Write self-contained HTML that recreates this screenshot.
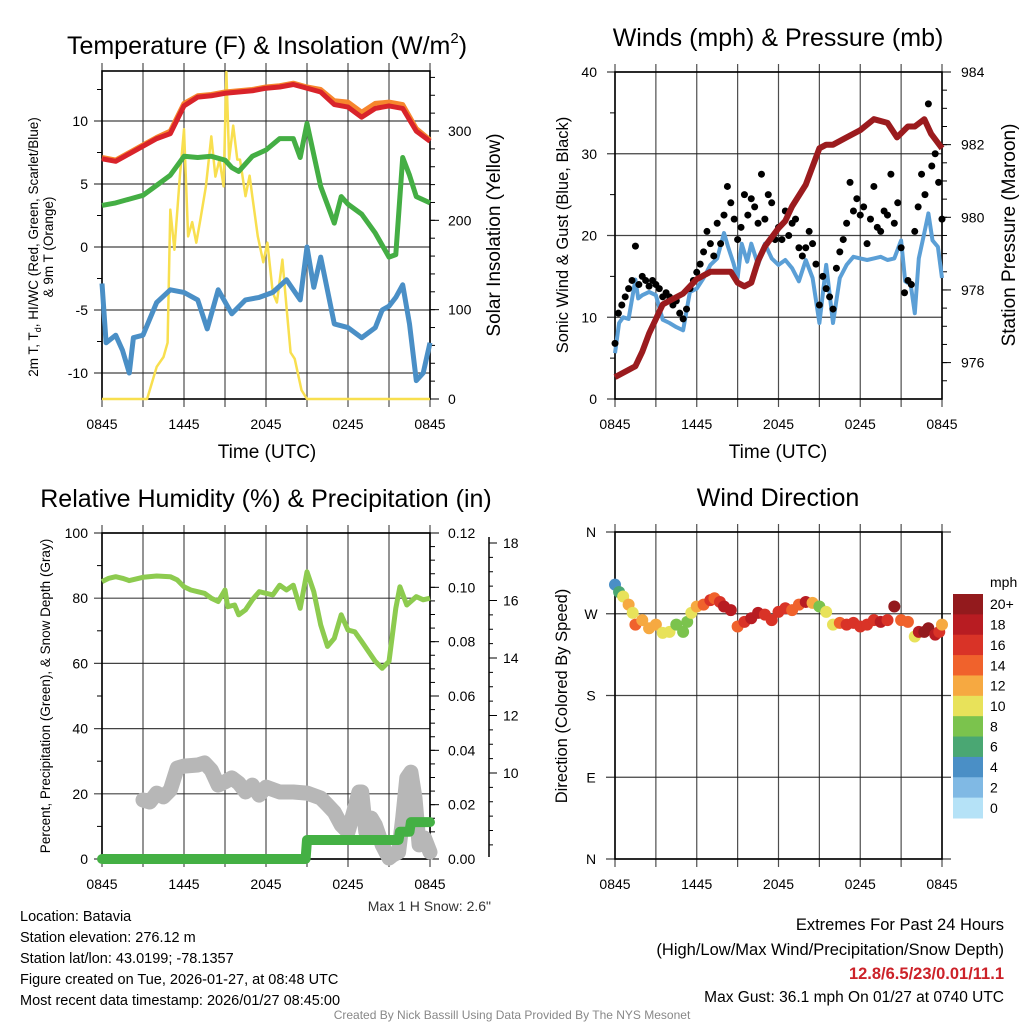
<!DOCTYPE html>
<html><head><meta charset="utf-8">
<style>
html,body{margin:0;padding:0;background:#fff;}
svg{display:block;font-family:"Liberation Sans",Arial,sans-serif;}
</style></head>
<body>
<svg id="chart" width="1024" height="1024" viewBox="0 0 1024 1024" xmlns="http://www.w3.org/2000/svg">
<g id="layer"></g>
<g fill="#000">
<text x="267" y="54" font-size="25" text-anchor="middle">Temperature (F) &amp; Insolation (W/m<tspan font-size="15" dy="-11">2</tspan><tspan dy="11">)</tspan></text>
<text x="778" y="46" font-size="25" text-anchor="middle">Winds (mph) &amp; Pressure (mb)</text>
<text x="266" y="507" font-size="25" text-anchor="middle">Relative Humidity (%) &amp; Precipitation (in)</text>
<text x="778" y="506" font-size="25" text-anchor="middle">Wind Direction</text>
<text x="267" y="458" font-size="19" text-anchor="middle">Time (UTC)</text>
<text x="778" y="458" font-size="19" text-anchor="middle">Time (UTC)</text>
<text transform="translate(38,247) rotate(-90)" font-size="13.5" text-anchor="middle">2m T, T<tspan font-size="9" dy="3">d</tspan><tspan dy="-3">, HI/WC (Red, Green, Scarlet/Blue)</tspan></text>
<text transform="translate(53,247) rotate(-90)" font-size="13.5" text-anchor="middle">&amp; 9m T (Orange)</text>
<text transform="translate(500,235) rotate(-90)" font-size="19" text-anchor="middle">Solar Insolation (Yellow)</text>
<text transform="translate(568,235) rotate(-90)" font-size="16.5" text-anchor="middle">Sonic Wind &amp; Gust (Blue, Black)</text>
<text transform="translate(1015,235) rotate(-90)" font-size="19" text-anchor="middle">Station Pressure (Maroon)</text>
<text transform="translate(50,696) rotate(-90)" font-size="13.5" text-anchor="middle">Percent, Precipitation (Green), &amp; Snow Depth (Gray)</text>
<text transform="translate(567,696) rotate(-90)" font-size="16.5" text-anchor="middle">Direction (Colored By Speed)</text>
<text x="491" y="911" font-size="14" fill="#333" text-anchor="end">Max 1 H Snow: 2.6"</text>
<text x="990" y="587" font-size="14">mph</text>
</g>
<g font-size="14.5" fill="#000">
<text x="20" y="921">Location: Batavia</text>
<text x="20" y="942">Station elevation: 276.12 m</text>
<text x="20" y="963">Station lat/lon: 43.0199; -78.1357</text>
<text x="20" y="984">Figure created on Tue, 2026-01-27, at 08:48 UTC</text>
<text x="20" y="1005">Most recent data timestamp: 2026/01/27 08:45:00</text>
</g>
<g text-anchor="end" fill="#000">
<text x="1004" y="930" font-size="16.5">Extremes For Past 24 Hours</text>
<text x="1004" y="955" font-size="16.5">(High/Low/Max Wind/Precipitation/Snow Depth)</text>
<text x="1004" y="979" font-size="16.5" font-weight="bold" fill="#cc2229">12.8/6.5/23/0.01/11.1</text>
<text x="1004" y="1002" font-size="15.5">Max Gust: 36.1 mph On 01/27 at 0740 UTC</text>
</g>
<text x="512" y="1019" font-size="12" fill="#888" text-anchor="middle">Created By Nick Bassill Using Data Provided By The NYS Mesonet</text>
</svg>
<script>
// ---------- data ----------
const xTickLabels = ["0845","1445","2045","0245","0845"];
const hourly = [0,1,2,3,4,5,6,7,8,9,10,11,12,13,14,15,16,17,18,19,20,21,22,23,24];
const tempRed = [7.0,6.8,7.4,8.0,8.6,9.0,11.2,11.9,12.0,12.2,12.3,12.4,12.6,12.7,12.9,12.6,12.3,11.3,11.1,10.3,11.0,11.2,11.0,9.2,8.4];
const temp9m = [7.1,6.9,7.5,8.1,8.7,9.2,11.4,12.0,12.1,12.3,12.4,12.5,12.7,12.8,13.0,12.7,12.5,11.6,11.5,10.7,11.4,11.5,11.3,9.4,8.5];
const dewTimes = [0,1,2,3,4,5,6,7,8,9,9.5,10,11,12,13,14,14.5,15,16,17,17.5,18,19,20,21,21.5,22,22.5,23,24];
const dewGreen = [3.3,3.5,3.8,4.1,4.9,5.7,7.2,7.1,7.2,6.9,6.3,6.0,7.2,7.7,8.6,8.6,7.1,9.8,4.8,1.9,4.0,3.4,2.6,1.1,-0.8,-0.6,7.1,5.7,4.0,3.5];
const wcTimes = [0,0.3,1,1.5,2,2.3,3,4,5,6,7,7.7,8.5,9.5,10.5,11.5,12.5,13.5,14.5,15,15.5,16,17,18,19,20,20.5,21,21.5,22,22.5,23,23.5,24];
const wcBlue = [-2.9,-7.6,-7.0,-8.2,-10.0,-7.2,-7.0,-4.4,-3.4,-3.6,-4.2,-6.5,-3.4,-5.3,-4.2,-4.0,-3.6,-2.6,-4.2,0.0,-3.2,-0.8,-6.1,-6.4,-7.2,-6.4,-5.0,-4.7,-4.0,-3.0,-6.1,-10.6,-10.0,-7.6];
const solarTimes = [0,3.3,4,4.5,4.8,5,5.3,5.7,6,6.3,6.6,6.9,7.2,7.6,8,8.3,8.6,8.9,9.1,9.3,9.6,9.9,10.1,10.5,10.8,11,11.4,11.8,12.1,12.5,12.8,13.2,13.5,13.8,14.1,14.6,15,24];
const solar = [0,0,36,47,63,212,167,250,302,182,198,175,201,238,294,249,268,238,366,268,306,268,268,227,250,227,182,153,175,119,108,156,103,52,45,10,0,0];
const presTimes = [0,0.5,1,1.5,2,2.5,3,3.5,4,5,6,7,8,8.5,9,9.5,10,10.5,11,12,12.5,13,14,15,15.5,16,17,18,19,20,20.7,21.5,22,22.7,23.2,23.6,24];
const pressure = [975.6,975.7,975.8,975.9,976.3,976.8,977.2,977.6,977.7,977.9,978.3,978.5,978.5,978.5,978.2,978.1,978.2,978.8,979.2,979.7,979.9,980.3,980.9,981.9,982.0,982.0,982.2,982.4,982.7,982.6,982.2,982.5,982.5,982.7,982.3,982.1,981.9];
const windTimes = [0,0.3,0.6,1,1.5,1.7,2,2.5,3,3.5,4,4.5,5,5.5,6,6.5,7,7.5,8,8.3,8.7,9,9.3,9.7,10,10.5,11,11.5,12,12.5,13,13.5,14,14.5,15,15.5,16,16.5,17,17.5,18,18.5,19,19.5,20,20.5,21,21.3,21.7,22,22.3,22.7,23,23.3,23.7,24];
const windSpeed = [5.6,9.3,10.0,9.8,14.6,12.3,12.7,13.1,12.7,9.7,9.3,8.8,8.4,13.1,13.5,14.8,16.4,17.2,20.3,18.6,16.6,14.8,19.0,16.8,19.0,16.4,19.0,17.2,16.4,17.0,16.0,14.4,17.0,14.8,9.3,16.4,9.3,14.8,16.4,17.4,17.2,17.0,17.2,17.4,17.0,17.2,19.4,14.4,14.0,10.5,17.2,20.3,22.7,19.4,18.6,14.8];
const gustStep = 0.25;
const gusts = [6.8,10.5,11.5,12.5,13.5,14.5,18.7,14.0,15.0,14.5,13.8,14.5,14.0,13.5,12.5,13.0,12.5,11.5,12.0,10.5,9.8,11.0,13.5,14.5,15.5,16.5,18.0,20.5,19.0,17.5,21.5,19.0,22.5,26.0,24.0,22.0,19.5,21.0,25.0,22.5,24.5,23.5,21.5,27.5,22.0,25.0,24.0,19.5,21.0,19.5,23.0,20.0,21.5,22.0,18.5,17.5,18.5,20.5,19.0,16.5,11.5,15.0,13.5,12.5,11.0,16.0,18.0,19.5,21.5,26.5,23.0,24.5,22.5,23.5,19.0,22.0,26.0,21.0,20.5,23.0,22.5,27.5,21.5,24.0,18.5,13.0,14.5,14.0,20.5,23.5,27.5,25.0,36.1,28.5,30.0,26.5,22.0];
const rhTimes = [0,0.5,1,1.5,2,3,4,5,5.5,6,6.5,7,7.5,8,8.5,9,9.2,9.7,10,10.5,11,11.5,12,12.5,13,13.5,14,14.5,15,15.5,16,16.5,17,17.5,18,18.5,19,20,20.5,21,21.5,21.8,22.3,23,23.5,24];
const rh = [85.1,86.1,86.6,86.1,85.4,86.4,86.8,86.6,85.6,83.5,82.5,82.0,81.5,80.0,79.0,82.5,77.4,77.9,74.9,76.4,79.5,82.0,81.5,81.0,84.0,82.5,84.0,76.9,88.1,82.0,71.8,65.2,67.7,74.9,70.2,69.7,66.7,60.6,58.5,60.6,76.9,83.5,77.9,80.5,79.5,80.0];
const precipTimes = [0,14.9,15.0,21.7,21.8,22.5,22.6,24];
const precip = [0,0,0.007,0.007,0.010,0.010,0.0136,0.0136];
const snowTimes = [3,3.5,4,4.5,5,5.5,6,7,7.5,8,8.5,9,9.5,10,10.5,11,11.5,12,13,14,15,16,16.5,17,17.5,18,18.5,18.8,19,19.3,19.7,20,20.5,21,21.3,21.7,22,22.3,22.6,22.9,23.2,23.6,24];
const snow = [9.06,8.99,9.30,9.17,9.41,10.17,10.24,10.28,10.35,10.10,9.58,9.69,9.83,9.65,9.34,9.58,9.23,9.51,9.34,9.34,9.30,9.13,8.89,8.64,8.19,7.95,8.78,9.34,9.34,7.95,8.43,8.19,7.50,7.04,7.15,7.25,8.43,9.83,10.03,9.13,7.50,7.74,7.25];
const dirTimes = [0,0.3,0.6,1,1.3,1.5,2,2.5,3,3.5,4,4.5,5,5.3,5.6,6,6.5,7,7.3,7.7,8,8.5,9,9.5,10,10.5,11,11.5,12,12.5,13,13.5,14,14.5,15,15.5,16,16.5,17,17.5,18,18.5,19,19.5,20,20.5,21,21.5,22,22.3,22.7,23,23.5,23.8,24];
const dirDeg = [302,294,289,280,271,258,263,254,258,249,250,258,250,261,271,278,280,285,287,283,278,274,256,261,265,271,269,263,272,276,274,280,283,282,278,272,258,260,258,260,256,258,263,261,263,278,263,261,245,250,250,254,247,250,258];
const dirSpeed = [5,7,11,12,11,14,12,12,12,11,11,9,9,9,11,12,15,16,14,17,19,18,14,17,18,18,17,16,17,17,15,15,18,13,9,11,11,14,16,17,16,16,17,18,16,21,14,14,11,18,21,21,18,17,12];
const cbLabels = ["20+","18","16","14","12","10","8","6","4","2","0"];
const cbColors = ["#931a1d","#b81c22","#d93327","#f0622c","#f6a941","#e8e25a","#7bc34d","#4aa773","#4a8fc6","#80b9e4","#b5e2f7"];

// ---------- helpers ----------
const NS = "http://www.w3.org/2000/svg";
const layer = document.getElementById("layer");
function mk(tag, attrs, parent){const e=document.createElementNS(NS,tag);for(const k in attrs)e.setAttribute(k,attrs[k]);(parent||layer).appendChild(e);return e;}
function lin(d0,d1,r0,r1){return v=>r0+(v-d0)/(d1-d0)*(r1-r0);}
function pathD(ts,vs,xs,ys){return ts.map((t,i)=>(i?"L":"M")+xs(t).toFixed(1)+","+ys(vs[i]).toFixed(1)).join("");}
function txt(x,y,s,size,anchor,parent){const e=mk("text",{x:x,y:y,"font-size":size,"text-anchor":anchor||"middle",fill:"#000"},parent);e.textContent=s;return e;}

function frame(L,T,R,B,name){
  const g=mk("g",{});
  
  
  return g;
}
function vgrid(g,L,R,T,B){
  const xs=lin(0,24,L,R);
  for(let h=0;h<=24;h+=3){
    const e=mk("line",{x1:xs(h),x2:xs(h),y1:T-8,y2:B+8,stroke:"#222","stroke-width":1.2,"stroke-opacity":0.8},g);
    
    
  }
  xTickLabels.forEach((s,i)=>{
    const e=txt(xs(i*6),B+30,s,14,"middle",g);
    
    
  });
  return xs;
}
function hline(g,y,x1,x2,w){
  const e=mk("line",{x1:x1,x2:x2,y1:y,y2:y,stroke:"#222","stroke-width":w||1.2,"stroke-opacity":0.85},g);
  
  
}
function box(g,L,T,R,B){
  const e=mk("rect",{x:L,y:T,width:R-L,height:B-T,fill:"none",stroke:"#000","stroke-width":1.6},g);
  
  
}
function ticks(g,x,ys,vals,len,lw){
  vals.forEach(v=>{const e=mk("line",{x1:x,x2:x+len,y1:ys(v),y2:ys(v),stroke:"#000","stroke-width":lw||1},g);
    
    });
}

// ---------- Panel 1: temperature ----------
{
  const L=102,R=430,T=71,B=399;
  const g=frame(L,T,R,B,"temp");
  const xs=vgrid(g,L,R,T,B);
  const yT=lin(0,10,247,121);
  const yS=lin(0,300,399,131);
  [-10,-5,0,5,10].forEach(v=>{hline(g,yT(v),L-8,R);
    const e=txt(L-14,yT(v)+5,String(v),14,"end",g);
    
    });
  ticks(g,L-5,yT,[-7.5,-2.5,2.5,7.5,12.5],5);
  const sMin=[];for(let v=0;v<=360;v+=20)sMin.push(v);
  ticks(g,R,yS,sMin,5);
  [0,100,200,300].forEach(v=>{ticks(g,R,yS,[v],9);
    const e=txt(R+18,yS(v)+5,String(v),14,"start",g);
    
    });
  let p;
  p=mk("path",{d:pathD(solarTimes,solar,xs,yS),fill:"none",stroke:"#f8df4f","stroke-width":2.5,"stroke-linejoin":"round"});
  
  
  p=mk("path",{d:pathD(wcTimes,wcBlue,xs,yT),fill:"none",stroke:"#4a8fc6","stroke-width":5,"stroke-linejoin":"round"});
  
  
  p=mk("path",{d:pathD(dewTimes,dewGreen,xs,yT),fill:"none",stroke:"#44ae44","stroke-width":5,"stroke-linejoin":"round"});
  
  
  p=mk("path",{d:pathD(hourly,temp9m,xs,yT),fill:"none",stroke:"#f7862d","stroke-width":5,"stroke-linejoin":"round"});
  
  
  p=mk("path",{d:pathD(hourly,tempRed,xs,yT),fill:"none",stroke:"#d9232a","stroke-width":5,"stroke-linejoin":"round"});
  
  
  box(g,L,T,R,B);
}

// ---------- Panel 2: winds ----------
{
  const L=615,R=942,T=72,B=399;
  const g=frame(L,T,R,B,"wind");
  const xs=vgrid(g,L,R,T,B);
  const yW=lin(0,40,399,72);
  const yP=lin(984,976,72,362.6);
  [0,10,20,30,40].forEach(v=>{hline(g,yW(v),L-8,R);
    const e=txt(L-18,yW(v)+5,String(v),14,"end",g);
    
    });
  ticks(g,L-5,yW,[5,15,25,35],5);
  const pm=[];for(let v=975.5;v<=984;v+=0.5)pm.push(v);
  ticks(g,R,yP,pm,5);
  [976,978,980,982,984].forEach(v=>{ticks(g,R,yP,[v],9);
    const e=txt(R+19,yP(v)+5,String(v),14,"start",g);
    
    });
  let p=mk("path",{d:pathD(windTimes,windSpeed,xs,yW),fill:"none",stroke:"#5b9fd6","stroke-width":4,"stroke-linejoin":"round"});
  
  
  gusts.forEach((v,i)=>{
    const c=mk("circle",{cx:xs(i*gustStep),cy:yW(v),r:3.5,fill:"#000"});
    
    
  });
  p=mk("path",{d:pathD(presTimes,pressure,xs,yP),fill:"none",stroke:"#9b1b1e","stroke-width":6,"stroke-linejoin":"round"});
  
  
  box(g,L,T,R,B);
}

// ---------- Panel 3: RH ----------
{
  const L=102,R=430,T=533,B=859;
  const g=frame(L,T,R,B,"rh");
  const xs=vgrid(g,L,R,T,B);
  const yR=lin(0,100,859,533);
  const yPr=lin(0,0.12,859,533);
  const ySn=lin(10,18,773,543);
  [0,20,40,60,80,100].forEach(v=>{hline(g,yR(v),L-8,R);
    const e=txt(L-14,yR(v)+5,String(v),14,"end",g);
    
    });
  ticks(g,L-5,yR,[10,30,50,70,90],5);
  const pm=[];for(let v=0;v<=0.1201;v+=0.005)pm.push(v);
  ticks(g,R,yPr,pm,5);
  [0,0.02,0.04,0.06,0.08,0.10,0.12].forEach(v=>{ticks(g,R,yPr,[v],9);
    const e=txt(R+18,yPr(v)+5,v.toFixed(2),14,"start",g);
    
    });
  const ax=mk("line",{x1:489,x2:489,y1:537,y2:857,stroke:"#000","stroke-width":1.5},g);
  
  
  const sm=[];for(let v=7;v<=18.3;v+=0.5)sm.push(v);
  ticks(g,489,ySn,sm.filter(v=>ySn(v)<=857&&ySn(v)>=537),4);
  [10,12,14,16,18].forEach(v=>{ticks(g,489,ySn,[v],8);
    const e=txt(503,ySn(v)+5,String(v),14,"start",g);
    
    });
  let p=mk("path",{d:pathD(snowTimes,snow,xs,ySn),fill:"none",stroke:"#b7b7b7","stroke-width":15,"stroke-linejoin":"round","stroke-linecap":"round"});
  
  
  p=mk("path",{d:pathD(rhTimes,rh,xs,yR),fill:"none",stroke:"#8dcb4f","stroke-width":5,"stroke-linejoin":"round"});
  
  
  p=mk("path",{d:pathD(precipTimes,precip,xs,yPr),fill:"none",stroke:"#44b044","stroke-width":10,"stroke-linejoin":"round","stroke-linecap":"round"});
  
  
  box(g,L,T,R,B);
}

// ---------- Panel 4: wind direction ----------
{
  const L=615,R=942,T=532,B=859;
  const g=frame(L,T,R,B,"dir");
  const xs=vgrid(g,L,R,T,B);
  const yD=lin(0,360,859,532);
  const names=["N","E","S","W","N"];
  [0,90,180,270,360].forEach((v,i)=>{hline(g,yD(v),L-9,R+9);
    const e=txt(591,yD(v)+5,names[i],14,"middle",g);
    
    });
  function col(s){let k=Math.floor(s/2);if(k>10)k=10;return cbColors[10-k];}
  dirTimes.forEach((t,i)=>{
    const c=mk("circle",{cx:xs(t),cy:yD(dirDeg[i]),r:6,fill:col(dirSpeed[i])});
    
    
  });
  box(g,L,T,R,B);
  const cb=mk("g",{});
  
  
  const h=(818-594)/11;
  cbColors.forEach((c,i)=>{
    const r=mk("rect",{x:953,y:594+i*h,width:30,height:h+0.5,fill:c},cb);
    
    
    const e=txt(990,594+i*h+h/2+5,cbLabels[i],14,"start",cb);
    
    
  });
}
</script>
</body></html>
